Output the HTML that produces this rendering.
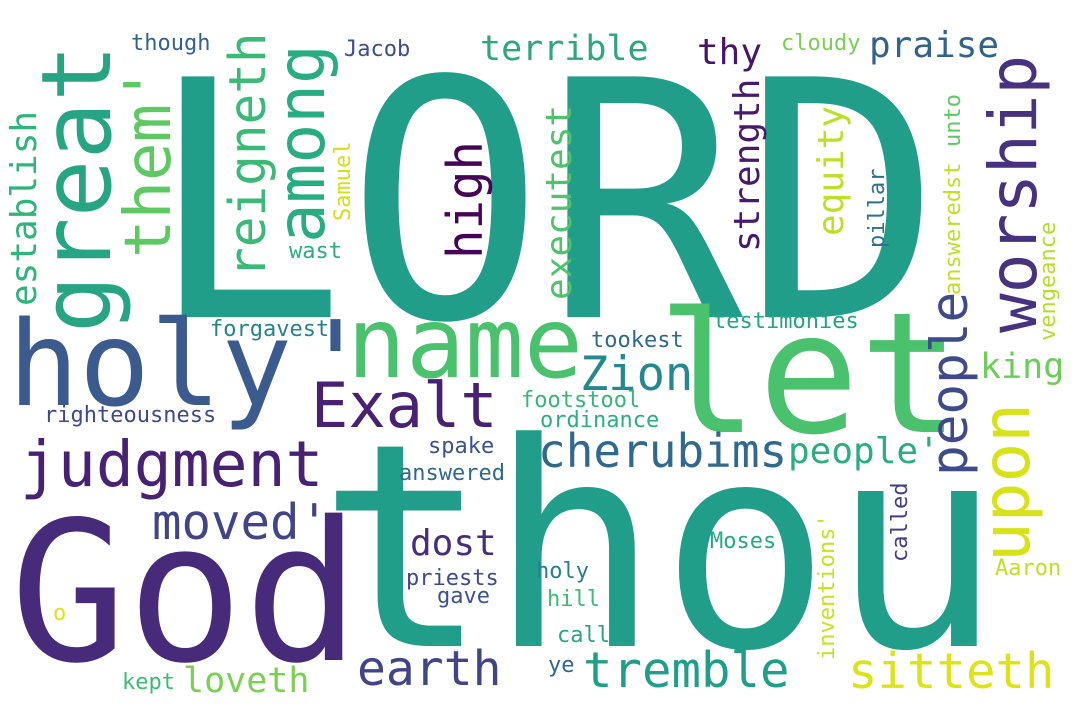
<!DOCTYPE html>
<html><head><meta charset="utf-8"><style>
html,body{margin:0;padding:0;background:#fff;}
svg{display:block;}
text{font-family:"DejaVu Sans Mono","Liberation Mono",monospace;}
</style></head><body>
<svg width="1080" height="720" viewBox="0 0 1080 720">
<rect width="1080" height="720" fill="#fff"/>
<!-- horizontal words -->
<text x="147" y="317" font-size="330" fill="#209e8a">LORD</text>
<text x="318" y="646" font-size="284" fill="#209e8a">thou</text>
<text x="10" y="660" font-size="194" fill="#472a79">God</text>
<text x="8" y="405" font-size="118" fill="#3b5a8d">holy<tspan x="300">'</tspan></text>
<text x="347" y="377" font-size="98" fill="#4ac16d">name</text>
<text x="657" y="432" font-size="168" fill="#4ac16d">let</text>
<text x="311" y="427" font-size="62" fill="#482173">Exalt</text>
<text x="580" y="390" font-size="47" fill="#23898e">Zion</text>
<text x="591" y="347" font-size="22" fill="#31688e">tookest</text>
<text x="521" y="407" font-size="22" fill="#35b779">footstool</text>
<text x="540" y="427" font-size="22" fill="#2ab07f">ordinance</text>
<text x="538" y="467" font-size="46" fill="#31688e">cherubims</text>
<text x="788" y="463" font-size="36" fill="#29af7f">people'</text>
<text x="713" y="328" font-size="22" fill="#21a585">testimonies</text>
<text x="980" y="378" font-size="35" fill="#6ccd5a">king</text>
<text x="995" y="575" font-size="22" fill="#c2df23">Aaron</text>
<text x="848" y="688" font-size="49" fill="#dde318">sitteth</text>
<text x="583" y="687" font-size="49" fill="#1f9e89">tremble</text>
<text x="548" y="672" font-size="22" fill="#31688e">ye</text>
<text x="557" y="642" font-size="22" fill="#2ba581">call</text>
<text x="547" y="606" font-size="22" fill="#3fbc73">hill</text>
<text x="536" y="578" font-size="22" fill="#277f8e">holy</text>
<text x="710" y="548" font-size="22" fill="#25ab82">Moses</text>
<text x="131" y="50" font-size="22" fill="#33638d">though</text>
<text x="344" y="56" font-size="22" fill="#3c4f8a">Jacob</text>
<text x="289" y="258" font-size="22" fill="#29af7f">wast</text>
<text x="480" y="60" font-size="35" fill="#2ea77f">terrible</text>
<text x="210" y="336" font-size="22" fill="#26828e">forgavest</text>
<text x="697" y="64" font-size="36" fill="#481467">thy</text>
<text x="781" y="50" font-size="22" fill="#7ad151">cloudy</text>
<text x="869" y="57" font-size="36" fill="#33638d">praise</text>
<text x="44" y="422" font-size="22" fill="#3e4a89">righteousness</text>
<text x="20" y="486" font-size="63" fill="#482173">judgment</text>
<text x="152" y="539" font-size="49" fill="#414487">moved'</text>
<text x="428" y="453" font-size="22" fill="#3b528b">spake</text>
<text x="399" y="480" font-size="22" fill="#31688e">answered</text>
<text x="410" y="555" font-size="36" fill="#472d7b">dost</text>
<text x="406" y="585" font-size="22" fill="#3e4a89">priests</text>
<text x="437" y="603" font-size="22" fill="#3b528b">gave</text>
<text x="53" y="620" font-size="22" fill="#dde318">o</text>
<text x="122" y="689" font-size="22" fill="#3fbc73">kept</text>
<text x="183" y="692" font-size="35" fill="#7ad151">loveth</text>
<text x="357" y="685" font-size="48" fill="#414487">earth</text>
<!-- vertical words -->
<text x="110" y="333" font-size="96" fill="#27a583" transform="rotate(-90 110 333)">great</text>
<text x="170" y="258" font-size="64" fill="#5ec962" transform="rotate(-90 170 258)">them'</text>
<text x="36" y="306" font-size="36" fill="#2fb47c" transform="rotate(-90 36 306)">establish</text>
<text x="265" y="278" font-size="51" fill="#3aba76" transform="rotate(-90 265 278)">reigneth</text>
<text x="324" y="243" font-size="66" fill="#27ad81" transform="rotate(-90 324 243)">among</text>
<text x="350" y="221" font-size="22" fill="#d0e11c" transform="rotate(-90 350 221)">Samuel</text>
<text x="482" y="259" font-size="49" fill="#450457" transform="rotate(-90 482 259)">high</text>
<text x="1036" y="333" font-size="66" fill="#46327e" transform="rotate(-90 1036 333)">worship</text>
<text x="571" y="300" font-size="36" fill="#4ec36b" transform="rotate(-90 571 300)">executest</text>
<text x="759" y="252" font-size="36" fill="#481a6c" transform="rotate(-90 759 252)">strength</text>
<text x="843" y="236" font-size="36" fill="#bddf26" transform="rotate(-90 843 236)">equity</text>
<text x="884" y="248" font-size="22" fill="#2c728e" transform="rotate(-90 884 248)">pillar</text>
<text x="960" y="295" font-size="22" fill="#c2df23" transform="rotate(-90 960 295)">answeredst</text>
<text x="960" y="147" font-size="22" fill="#5ec962" transform="rotate(-90 960 147)">unto</text>
<text x="1055" y="341" font-size="22" fill="#b5de2b" transform="rotate(-90 1055 341)">vengeance</text>
<text x="967" y="476" font-size="51" fill="#3e4a89" transform="rotate(-90 967 476)">people</text>
<text x="1029" y="562" font-size="66" fill="#d8e219" transform="rotate(-90 1029 562)">upon</text>
<text x="834" y="660" font-size="22" fill="#c8e020" transform="rotate(-90 834 660)">inventions'</text>
<text x="907" y="562" font-size="22" fill="#433e85" transform="rotate(-90 907 562)">called</text>
</svg>
</body></html>
